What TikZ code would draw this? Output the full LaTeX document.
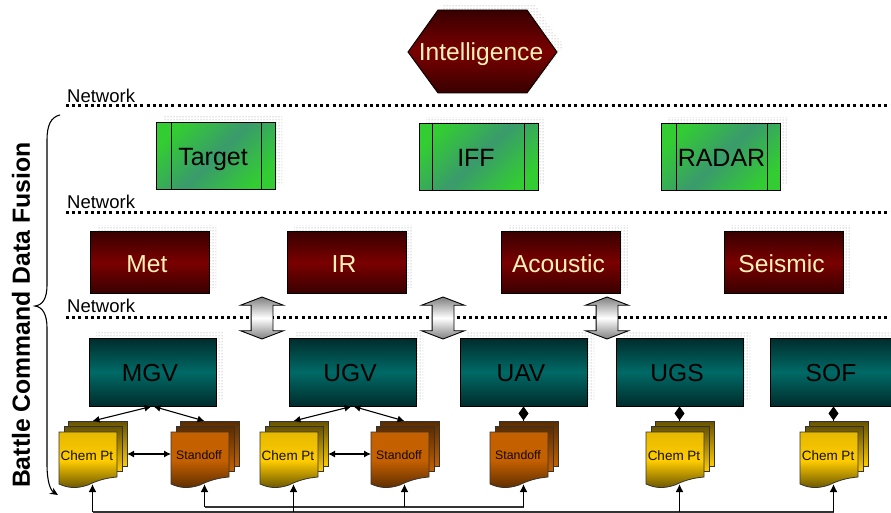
\documentclass[tikz,border=0pt]{standalone}
\usepackage{fontspec}
\setmainfont{Liberation Sans}
\usetikzlibrary{arrows.meta, shapes.arrows, shadows, patterns}

\definecolor{redDark}{HTML}{380000}
\definecolor{redMid}{HTML}{7A0000}
\definecolor{tealDark}{HTML}{002C2C}
\definecolor{tealMid}{HTML}{006A66}
\definecolor{greenLight}{HTML}{33CC33}
\definecolor{greenMid}{HTML}{3A9A6C}
\definecolor{chemLight}{HTML}{FFCC00}
\definecolor{chemDark}{HTML}{665200}
\definecolor{standLight}{HTML}{C46000}
\definecolor{standDark}{HTML}{5A2C00}
\definecolor{cream}{HTML}{FFF2B8}

% stack of three sheets: name, position, colour prefix, text style, text
\newcommand{\docstack}[5]{%
	\begin{scope}[shift={#2}]
		\draw[#3back] (9,-11) rectangle (68,34);
		\draw[#3back] (5,-6) rectangle (63,39);
		\draw[#3front] (0,0) -- (58,0) -- (58,45) .. controls (46,46) and (37,49) .. (29,53)
			.. controls (17,57) and (9,56) .. (0,52) -- cycle;
		\node[#4] (#1) at (28,23.5) {#5};
		\coordinate (#1b) at (33.5,52);
		\coordinate (#1t) at (33.5,-11);
		\coordinate (#1r) at (68,22);
		\coordinate (#1l) at (0,22);
	\end{scope}}

\begin{document}
\begin{tikzpicture}[x=1pt, y=-1pt, >=Latex]
	\useasboundingbox (0,0) rectangle (891,513);
	\clip (0,0) rectangle (891,513);
	% -------------------------------------------------
	% Box styles
	\tikzset{
		base/.style={draw=black, line width=0.9pt, inner sep=0pt, align=center,
			text height=19.6pt, text depth=0pt, execute at end node={\kern 5pt},
			font=\fontsize{24.6}{26}\selectfont},
		dotshadow/.style={general shadow={shadow xshift=7pt, shadow yshift=6pt,
			pattern=dots, pattern color=black!45}},
		sensor/.style={base, dotshadow, minimum width=119pt, minimum height=62pt, text=cream,
			top color=redDark, bottom color=redDark, middle color=redMid},
		platform/.style={base, dotshadow, minimum width=127pt, minimum height=68pt, text=black,
			top color=tealDark, bottom color=tealDark, middle color=tealMid},
		fusion/.style={base, dotshadow, minimum width=119pt, minimum height=67pt, text=black,
			font=\fontsize{25}{26}\selectfont,
			top color=greenLight, bottom color=greenLight, middle color=greenMid, shading angle=45},
		hexfill/.style={draw=black, line width=0.9pt, dotshadow,
			top color=redDark, bottom color=redDark, middle color=redMid},
		introtext/.style={inner sep=0pt, text=cream, text height=19.6pt, text depth=0pt,
			font=\fontsize{24.6}{26}\selectfont},
		% sheets of the document stacks
		chemback/.style={draw=black!80, line width=0.8pt, top color=chemDark, bottom color=chemLight},
		chemfront/.style={draw=black!80, line width=0.8pt, top color=chemLight!90!black,
			bottom color=chemDark, middle color=chemLight},
		standback/.style={draw=black!80, line width=0.8pt, top color=standDark, bottom color=standLight},
		standfront/.style={draw=black!80, line width=0.8pt, top color=standLight,
			bottom color=standDark, middle color=standLight},
		chemtext/.style={inner sep=0pt, text=black!80!chemDark, font=\fontsize{13.5}{15}\selectfont},
		standtext/.style={inner sep=0pt, text=black!80!standDark, font=\fontsize{12.3}{14}\selectfont},
		% -------------------------------------------------
		% Connector line styles
		netline/.style={line width=3pt, dash pattern=on 3pt off 3.2pt},
		netlabel/.style={inner sep=0pt, anchor=base west, font=\fontsize{18.5}{20}\selectfont},
		link/.style={line width=1.1pt, {Latex[length=7pt, width=7pt]}-{Latex[length=7pt, width=7pt]}},
		tie/.style={line width=1.1pt, -{Diamond[length=14pt, width=10pt]}},
		bus/.style={line width=1.2pt, draw=black!80},
		feed/.style={line width=1.6pt, -{Latex[length=8pt, width=8pt]}},
		updown/.style={draw=black, line width=0.9pt, double arrow, shape border rotate=90, inner sep=10.5pt,
			minimum width=42pt, minimum height=42pt, double arrow head extend=10.5pt,
			double arrow tip angle=138, top color=black!50, bottom color=black!50, middle color=white}
	}

	% Network lines
	\node[netlabel] (net1) at (67,103) {Network};
	\node[netlabel] (net2) at (67,208) {Network};
	\node[netlabel] (net3) at (67,312) {Network};
	\coordinate (n1w) at (66,106);  \coordinate (n1e) at (891,106);
	\coordinate (n2w) at (66,212);  \coordinate (n2e) at (891,212);
	\coordinate (n3w) at (66,317);  \coordinate (n3e) at (891,317);
	\draw[netline] (n1w) -- (n1e);
	\draw[netline] (n2w) -- (n2e);
	\draw[netline] (n3w) -- (n3e);

	\path[hexfill] (408,52) -- (438,10) -- (527,10) -- (557,52) -- (527,93) -- (438,93) -- cycle;
	\node[introtext] (intelligence) at (481,50.5) {Intelligence};

	\node[fusion] (target) at (215.5,156) {Target};
	\node[fusion] (iff) at (478.5,157) {IFF};
	\node[fusion] (radar) at (721,157) {\kern 6pt RADAR};
	\draw (171,122.5) -- (171,189.5);
	\draw (261,122.5) -- (261,189.5);
	\draw (432,123.5) -- (432,190.5);
	\draw (524,123.5) -- (524,190.5);
	\draw (676,123.5) -- (676,190.5);
	\draw (767,123.5) -- (767,190.5);

	\node[sensor] (met) at (149.5,262.5) {Met};
	\node[sensor] (ir) at (346.5,262.5) {IR};
	\node[sensor] (acoustic) at (561,262.5) {Acoustic};
	\node[sensor] (seismic) at (784,262.5) {Seismic};

	\node[updown] (ud1) at (262,318) {};
	\node[updown] (ud2) at (443,318) {};
	\node[updown] (ud3) at (607,318) {};

	\node[platform] (mgv) at (152.5,372) {MGV};
	\node[platform] (ugv) at (352.5,372) {UGV};
	\node[platform] (uav) at (523.5,372) {UAV};
	\node[platform] (ugs) at (679.5,372) {UGS};
	\node[platform] (sof) at (833.5,372) {SOF};

	\docstack{chem1}{(59,432)}{chem}{chemtext}{Chem Pt}
	\docstack{stand1}{(171,432)}{stand}{standtext}{Standoff}
	\docstack{chem2}{(260,432)}{chem}{chemtext}{Chem Pt}
	\docstack{stand2}{(371,432)}{stand}{standtext}{Standoff}
	\docstack{stand3}{(490,432)}{stand}{standtext}{Standoff}
	\docstack{chem3}{(646,432)}{chem}{chemtext}{Chem Pt}
	\docstack{chem4}{(800,432)}{chem}{chemtext}{Chem Pt}

	\draw[link] ([xshift=-1pt]mgv.south) -- (chem1t);
	\draw[link] ([xshift=1pt]mgv.south) -- (stand1t);
	\draw[link] ([xshift=-1pt]ugv.south) -- (chem2t);
	\draw[link] ([xshift=1pt]ugv.south) -- (stand2t);
	\draw[link] (chem1r) -- (stand1l);
	\draw[link] (chem2r) -- (stand2l);

	\draw[tie] (stand3t) -- (uav.south);
	\draw[tie] (chem3t) -- (ugs.south);
	\draw[tie] (chem4t) -- (sof.south);

	% Buses along the bottom
	\coordinate (lowbus) at (0,512);
	\coordinate (upbus) at (0,507);
	\draw[bus] (chem1b |- lowbus) -- (chem4b |- lowbus);
	\draw[bus] (stand1b |- upbus) -- (stand3b |- upbus);
	\draw[feed] (chem1b |- lowbus) -- (chem1b);
	\draw[feed] (chem2b |- lowbus) -- (chem2b);
	\draw[feed] (chem3b |- lowbus) -- (chem3b);
	\draw[feed] (chem4b |- lowbus) -- (chem4b);
	\draw[feed] (stand1b |- upbus) -- (stand1b);
	\draw[feed] (stand2b |- upbus) -- (stand2b);
	\draw[feed] (stand3b |- upbus) -- (stand3b);

	% Brace and its title
	\coordinate (bracetop) at (60,115);
	\coordinate (bracetip) at (35,306);
	\coordinate (braceend) at (58,495);
	\draw[line width=1.1pt, -{Stealth[length=8pt, width=7pt]}] (bracetop) .. controls (51,117) and (47,125) .. (47,140) -- (47,285)
		.. controls (47,298) and (43,305) .. (bracetip) .. controls (43,307) and (47,315) .. (47,328)
		-- (47,465) .. controls (47,480) and (50,490) .. (braceend);
	\node[rotate=90, inner sep=0pt, font=\bfseries\fontsize{24.8}{26}\selectfont] (title) at (21,315) {Battle Command Data Fusion};
\end{tikzpicture}
\end{document}
